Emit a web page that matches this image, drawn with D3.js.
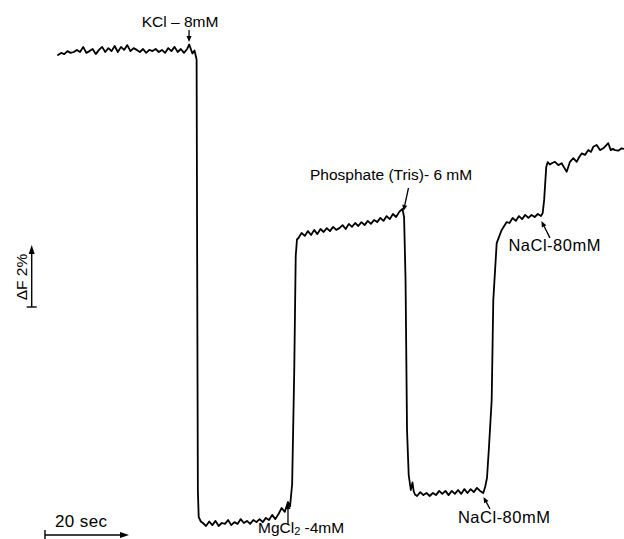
<!DOCTYPE html>
<html><head><meta charset="utf-8">
<script src="https://cdn.jsdelivr.net/npm/d3@7"></script>
<style>body{margin:0;background:#fff} svg{display:block} text{font-family:"Liberation Sans",Arial,sans-serif;fill:#000}</style>
</head><body><svg id="c" width="624" height="539"></svg>
<script>
// time (s) and fluorescence change (ΔF %, relative to the low KCl level)
const time = [
0,0.75,1.5,2.25,3,3.75,4.5,5.25,6,6.75,7.5,8.25,9,9.75,10.5,11.25,12,12.75,13.5,14.25,15,15.75,16.5,17.25,18,18.75,19.5,20.25,21,21.75,22.5,23.25,24,24.75,25.5,26.25,27,27.75,28.5,29.25,30,30.75,31.25,32,32.5,33,33.15,33.3,33.5,
34,34.5,35.25,36,36.75,37.5,38.25,39,39.75,40.5,41.25,42,42.75,43.5,44.25,45,45.75,46.5,47.25,48,48.75,49.5,50.25,51,51.75,52.5,53.25,54,54.75,55.25,55.75,56.25,56.6,56.9,
57.25,58,58.75,59.5,60.25,61,61.75,62.5,63.25,64,64.75,65.5,66.25,67,67.75,68.5,69.25,70,70.75,71.5,72.25,73,73.75,74.5,75.25,76,76.75,77.5,78.25,79,79.75,80.5,81.25,82,82.4,82.75,83.1,83.5,84,84.4,84.7,85,
85.5,86.25,87,87.75,88.5,89.25,90,90.75,91.5,92.25,93,93.75,94.5,95.25,96,96.75,97.5,98.25,99,99.75,100.5,101.25,101.7,102.14,102.6,103.26,103.64,104.45,105.64,106.83,
107.5,108.25,109,109.75,110.5,111.25,112,112.75,113.5,114.25,115,115.4,115.75,116.25,116.6,
117.1,117.55,118.33,119.12,119.93,120.5,121.12,121.9,122.69,123.5,124.1,124.69,125.48,126.26,126.9,127.45,128.26,129.05,129.83,130.4,131.02,131.6,132.1,132.62,133.4,134.2,134.8];
const signal = [
15.50,15.57,15.53,15.63,15.57,15.60,15.67,15.60,15.77,15.57,15.63,15.70,15.53,15.67,15.77,15.60,15.73,15.63,15.80,15.60,15.77,15.67,15.83,15.63,15.73,15.67,15.60,15.70,15.57,15.67,15.63,15.70,15.60,15.67,15.57,15.73,15.63,15.77,15.60,15.70,15.57,15.70,15.85,15.55,15.65,15.35,8.0,1.0,0.10,
-0.05,-0.10,-0.20,-0.05,-0.17,-0.03,-0.20,-0.10,-0.13,0.00,-0.17,-0.07,-0.13,0.03,-0.10,-0.03,-0.13,0.00,-0.07,0.03,-0.07,0.07,0.00,0.17,0.03,0.20,0.40,0.27,0.60,0.45,1.2,5.0,8.8,9.35,
9.40,9.57,9.47,9.63,9.50,9.67,9.53,9.70,9.60,9.73,9.63,9.77,9.67,9.73,9.83,9.70,9.87,9.77,9.90,9.80,9.93,9.83,9.97,9.87,10.00,9.93,10.07,9.97,10.13,10.03,10.20,10.10,10.27,10.37,10.10,8.0,3.0,1.5,1.0,1.25,0.95,0.85,
0.80,0.93,0.83,0.90,0.80,0.90,0.83,0.97,0.87,0.97,0.83,0.97,0.87,1.00,0.87,1.03,0.90,1.03,0.93,1.07,0.97,0.90,1.1,1.4,2.4,4.0,7.33,9.23,9.67,9.93,
9.90,10.07,9.97,10.13,10.03,10.17,10.07,10.17,10.10,10.20,10.13,10.23,10.67,11.77,11.93,
11.85,11.89,11.94,11.83,11.89,11.75,11.61,11.94,12.06,11.94,12.10,12.22,12.17,12.33,12.27,12.44,12.50,12.33,12.39,12.47,12.56,12.33,12.37,12.33,12.31,12.39,12.37];

// additions (arrow tip time and level)
const eventLabels = ["KCl – 8mM", "MgCl2 -4mM", "Phosphate (Tris)- 6 mM", "NaCl-80mM", "NaCl-80mM"];
const eventTimes  = [31.2, 54.76, 82.26, 101.3, 115.1];
const eventLevels = [15.93, 0.57, 10.3, 0.77, 9.97];

// scale bars
const timeBarLabel = "20 sec";
const timeBarSeconds = 20;
const fluorBarLabel = "ΔF 2%";
const fluorBarPercent = 2;

const svg = d3.select("#c");
const x = d3.scaleLinear().domain([0, 135]).range([58, 625]);
const y = d3.scaleLinear().domain([0, 16]).range([520, 40]);

const pts = time.map((t, i) => [t, signal[i]]);
svg.append("path")
  .attr("d", d3.line().x(d => x(d[0])).y(d => y(d[1]))(pts))
  .attr("fill", "none").attr("stroke", "#000").attr("stroke-width", 1.8)
  .attr("stroke-linejoin", "round").attr("stroke-linecap", "round");

function arrow(x1, y1, x2, y2, len = 8, half = 2.8, w = 1.4) {
  const ang = Math.atan2(y2 - y1, x2 - x1);
  const bx = x2 - len * Math.cos(ang), by = y2 - len * Math.sin(ang);
  svg.append("line").attr("x1", x1).attr("y1", y1).attr("x2", bx).attr("y2", by)
    .attr("stroke", "#000").attr("stroke-width", w);
  const px = -Math.sin(ang) * half, py = Math.cos(ang) * half;
  svg.append("path")
    .attr("d", `M${x2},${y2}L${bx + px},${by + py}L${bx - px},${by - py}Z`)
    .attr("fill", "#000");
}

// label layout: tail offset from tip, text anchor offset from tip
const layout = [
  {tail: [0, -12], text: [-9, -15], anchor: "middle", size: 15.5, ls: 0},
  {tail: [0, 22], text: [-30, 30], anchor: "start", size: 15.5, ls: 0},
  {tail: [5, -23], text: [-93.5, -31], anchor: "start", size: 15.5, ls: 0},
  {tail: [6.5, 12], text: [-25.5, 26], anchor: "start", size: 16.5, ls: 0.5},
  {tail: [8.5, 17], text: [-33, 30], anchor: "start", size: 16.5, ls: 0.5}
];

eventLabels.forEach((lab, i) => {
  const tx = x(eventTimes[i]), ty = y(eventLevels[i]);
  const L = layout[i];
  arrow(tx + L.tail[0], ty + L.tail[1], tx, ty, 6, 2.5, 1.3);
  const t = svg.append("text").attr("x", tx + L.text[0]).attr("y", ty + L.text[1])
    .attr("text-anchor", L.anchor).attr("font-size", L.size).attr("letter-spacing", L.ls);
  if (lab.startsWith("MgCl2")) {
    t.append("tspan").text("MgCl");
    t.append("tspan").attr("dy", 2).attr("font-size", 11).text("2");
    t.append("tspan").attr("dy", -2).text(lab.slice(5));
  } else {
    t.text(lab);
  }
});

// time scale bar
const t0 = -3.1, barV = -0.5;
svg.append("line").attr("x1", x(t0)).attr("x2", x(t0)).attr("y1", y(barV) - 5).attr("y2", y(barV) + 4)
  .attr("stroke", "#000").attr("stroke-width", 1.4);
arrow(x(t0), y(barV), x(t0 + timeBarSeconds), y(barV), 9, 3, 1.4);
svg.append("text").attr("x", x(t0) + 10).attr("y", y(barV) - 8).attr("font-size", 17)
  .attr("letter-spacing", 0.4).text(timeBarLabel);

// fluorescence scale bar
const tf = -6.26, v0 = 7.1;
svg.append("line").attr("x1", x(tf) - 5).attr("x2", x(tf) + 5).attr("y1", y(v0)).attr("y2", y(v0))
  .attr("stroke", "#000").attr("stroke-width", 1.4);
arrow(x(tf), y(v0), x(tf), y(v0 + fluorBarPercent) - 2, 9, 3, 1.4);
svg.append("text")
  .attr("transform", `translate(${x(tf) - 5},${(y(v0) + y(v0 + fluorBarPercent)) / 2}) rotate(-90)`)
  .attr("text-anchor", "middle").attr("font-size", 15.5).text(fluorBarLabel);
</script></body></html>
